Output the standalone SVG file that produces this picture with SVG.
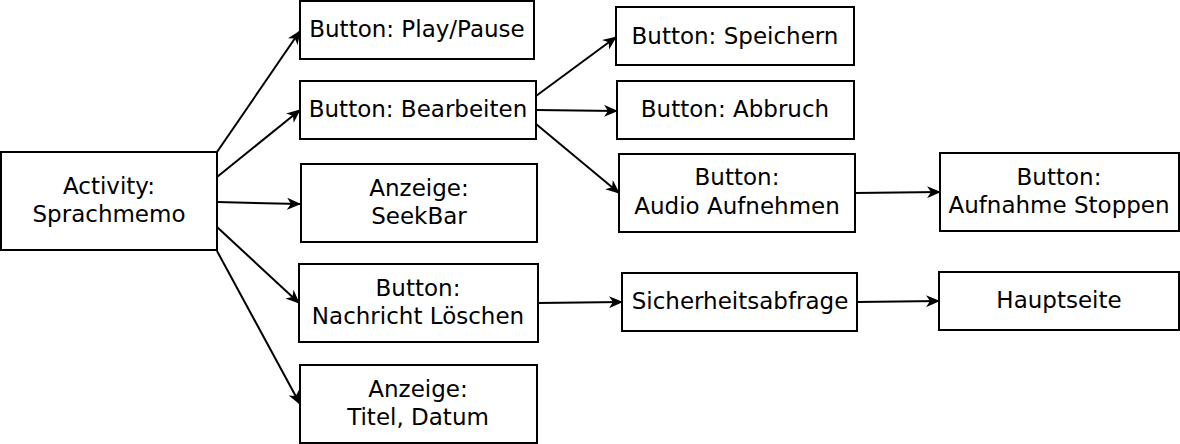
<svg xmlns="http://www.w3.org/2000/svg" width="1180" height="444" viewBox="0 0 1180 444">
<style>
.box{fill:#fff;stroke:#000;stroke-width:2}
text{font-family:"DejaVu Sans",sans-serif;font-size:23px;fill:#000;text-anchor:middle}
.c line{stroke:#000;stroke-width:2;marker-end:url(#ah)}
</style>
<defs>
<marker id="ah" viewBox="0 0 14 12" refX="13" refY="6" markerWidth="14" markerHeight="12" markerUnits="userSpaceOnUse" orient="auto">
<path d="M0,0 L14,6 L0,12 L4,6 Z" fill="#000"/>
</marker>
</defs>
<rect width="1180" height="444" fill="#fff"/>
<g class="c" id="connectors">
<line x1="217" y1="152" x2="300" y2="31"/>
<line x1="217" y1="177" x2="300" y2="110"/>
<line x1="217" y1="202" x2="300" y2="204"/>
<line x1="217" y1="227" x2="299" y2="303"/>
<line x1="217" y1="251" x2="300" y2="404"/>
<line x1="536" y1="96" x2="616" y2="37"/>
<line x1="536" y1="110" x2="617" y2="111"/>
<line x1="536" y1="124" x2="619" y2="193"/>
<line x1="855" y1="193" x2="940" y2="192"/>
<line x1="538" y1="303" x2="622" y2="302"/>
<line x1="857" y1="302" x2="939" y2="301"/>
</g>
<g id="activity"><rect class="box" x="1" y="152" width="216" height="98"/><text x="109" y="194">Activity:</text><text x="109" y="222">Sprachmemo</text></g>
<g id="playpause"><rect class="box" x="300" y="1" width="234" height="58"/><text x="417" y="37">Button: Play/Pause</text></g>
<g id="bearbeiten"><rect class="box" x="300" y="81" width="236" height="58"/><text x="418" y="117">Button: Bearbeiten</text></g>
<g id="seekbar"><rect class="box" x="301" y="164" width="236" height="78"/><text x="419" y="196">Anzeige:</text><text x="419" y="224">SeekBar</text></g>
<g id="loeschen"><rect class="box" x="299" y="264" width="239" height="78"/><text x="418" y="296">Button:</text><text x="418" y="324">Nachricht Löschen</text></g>
<g id="titel"><rect class="box" x="300" y="365" width="237" height="78"/><text x="418" y="397">Anzeige:</text><text x="418" y="425">Titel, Datum</text></g>
<g id="speichern"><rect class="box" x="616" y="7" width="238" height="58"/><text x="735" y="44">Button: Speichern</text></g>
<g id="abbruch"><rect class="box" x="617" y="81" width="237" height="58"/><text x="735" y="117">Button: Abbruch</text></g>
<g id="aufnehmen"><rect class="box" x="619" y="154" width="236" height="78"/><text x="737" y="185">Button:</text><text x="737" y="214">Audio Aufnehmen</text></g>
<g id="stoppen"><rect class="box" x="940" y="153" width="239" height="78"/><text x="1059" y="185">Button:</text><text x="1059" y="213">Aufnahme Stoppen</text></g>
<g id="sicherheit"><rect class="box" x="622" y="273" width="235" height="58"/><text x="740" y="309">Sicherheitsabfrage</text></g>
<g id="hauptseite"><rect class="box" x="939" y="272" width="240" height="58"/><text x="1059" y="308">Hauptseite</text></g>
</svg>
